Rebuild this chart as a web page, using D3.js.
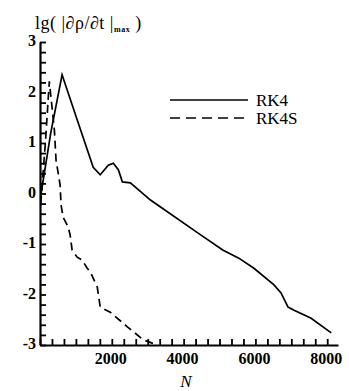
<!DOCTYPE html>
<html>
<head>
<meta charset="utf-8">
<script src="https://cdn.jsdelivr.net/npm/d3@7"></script>
<style>
  body { margin: 0; background: #fff; }
  text { font-family: 'Liberation Serif', 'DejaVu Serif', serif; fill: #000; }
</style>
</head>
<body>
<div id="chart"></div>
<script>
// RK4 (solid)
const rk4N = [30, 300, 615, 1035, 1482, 1678, 1902, 2042, 2182, 2294, 2517, 3077, 4475, 5090, 5538, 5958, 6517, 6713, 6909, 7077, 7552, 8112];
const rk4V = [0.0, 1.2, 2.35, 1.46, 0.52, 0.37, 0.56, 0.60, 0.47, 0.23, 0.21, -0.13, -0.82, -1.12, -1.28, -1.48, -1.81, -1.97, -2.25, -2.31, -2.47, -2.76];
// RK4S (dashed)
const rk4sN = [20, 150, 260, 400, 447, 560, 587, 643, 783, 839, 895, 1035, 1175, 1315, 1399, 1594, 1678, 1958, 2433, 2881, 3272];
const rk4sV = [-0.2, 1.0, 2.22, 1.26, 0.66, 0.17, -0.23, -0.47, -0.66, -0.82, -1.12, -1.26, -1.32, -1.48, -1.55, -1.85, -2.25, -2.35, -2.64, -2.90, -3.0];

const xTicks = [2000, 4000, 6000, 8000];
const yTicks = [-3, -2, -1, 0, 1, 2, 3];
const seriesNames = ['RK4', 'RK4S'];

const width = 349, height = 391;
const svg = d3.select('#chart').append('svg')
  .attr('width', width)
  .attr('height', height);

const x = d3.scaleLinear().domain([0, 8300]).range([40, 338]);
const y = d3.scaleLinear().domain([-3, 3]).range([345, 42]);

// x axis, minor ticks pointing inward
const xMinor = d3.range(0, 8300, 2000 / 6);
svg.append('g')
  .attr('transform', 'translate(0,345)')
  .call(d3.axisTop(x).tickValues(xMinor).tickSize(6).tickSizeOuter(0).tickFormat(''))
  .call(g => g.select('.domain').attr('stroke-width', 2.2))
  .call(g => g.selectAll('.tick line').attr('stroke-width', 1.8));

svg.append('g')
  .selectAll('text')
  .data(xTicks)
  .join('text')
  .attr('x', d => x(d) - 1)
  .attr('y', 364)
  .attr('text-anchor', 'middle')
  .style('font-size', '16px')
  .style('font-weight', 'bold')
  .text(d => d);

// y axis, minor ticks pointing inward
const yMinor = d3.range(-3, 3.01, 0.2);
svg.append('g')
  .attr('transform', 'translate(40,0)')
  .call(d3.axisRight(y).tickValues(yMinor).tickSize(6).tickSizeOuter(0).tickFormat(''))
  .call(g => g.select('.domain').attr('stroke-width', 2.2))
  .call(g => g.selectAll('.tick line').attr('stroke-width', 1.8));

svg.append('g')
  .selectAll('text')
  .data(yTicks)
  .join('text')
  .attr('x', 36)
  .attr('y', d => y(d) + 4)
  .attr('text-anchor', 'end')
  .style('font-size', '16px')
  .style('font-weight', 'bold')
  .text(d => d);

// title
const title = svg.append('text')
  .attr('x', 35)
  .attr('y', 29)
  .style('font-size', '18px')
  .style('letter-spacing', '0.5px');
title.append('tspan').text('lg( |∂ρ/∂t |');
title.append('tspan').attr('dy', 3).style('font-size', '8px').style('font-weight', 'bold').text('max');
title.append('tspan').attr('dy', -3).text(' )');

// x label
svg.append('text')
  .attr('x', 186)
  .attr('y', 387)
  .attr('text-anchor', 'middle')
  .style('font-size', '17px')
  .style('font-style', 'italic')
  .text('N');

const line = d3.line()
  .x(d => x(d[0]))
  .y(d => y(d[1]));

svg.append('path')
  .datum(rk4N.map((n, i) => [n, rk4V[i]]))
  .attr('fill', 'none')
  .attr('stroke', '#000')
  .attr('stroke-width', 1.7)
  .attr('d', line);

svg.append('path')
  .datum(rk4sN.map((n, i) => [n, rk4sV[i]]))
  .attr('fill', 'none')
  .attr('stroke', '#000')
  .attr('stroke-width', 1.7)
  .attr('stroke-dasharray', '8,5')
  .attr('d', line);

// legend
const legend = svg.append('g');
seriesNames.forEach((name, i) => {
  const ly = 100 + i * 18;
  legend.append('line')
    .attr('x1', 170).attr('x2', 248)
    .attr('y1', ly).attr('y2', ly)
    .attr('stroke', '#000')
    .attr('stroke-width', 1.5)
    .attr('stroke-dasharray', i === 0 ? null : '10,6');
  legend.append('text')
    .attr('x', 256)
    .attr('y', ly + 6)
    .style('font-size', '17px')
    .text(name);
});
</script>
</body>
</html>
